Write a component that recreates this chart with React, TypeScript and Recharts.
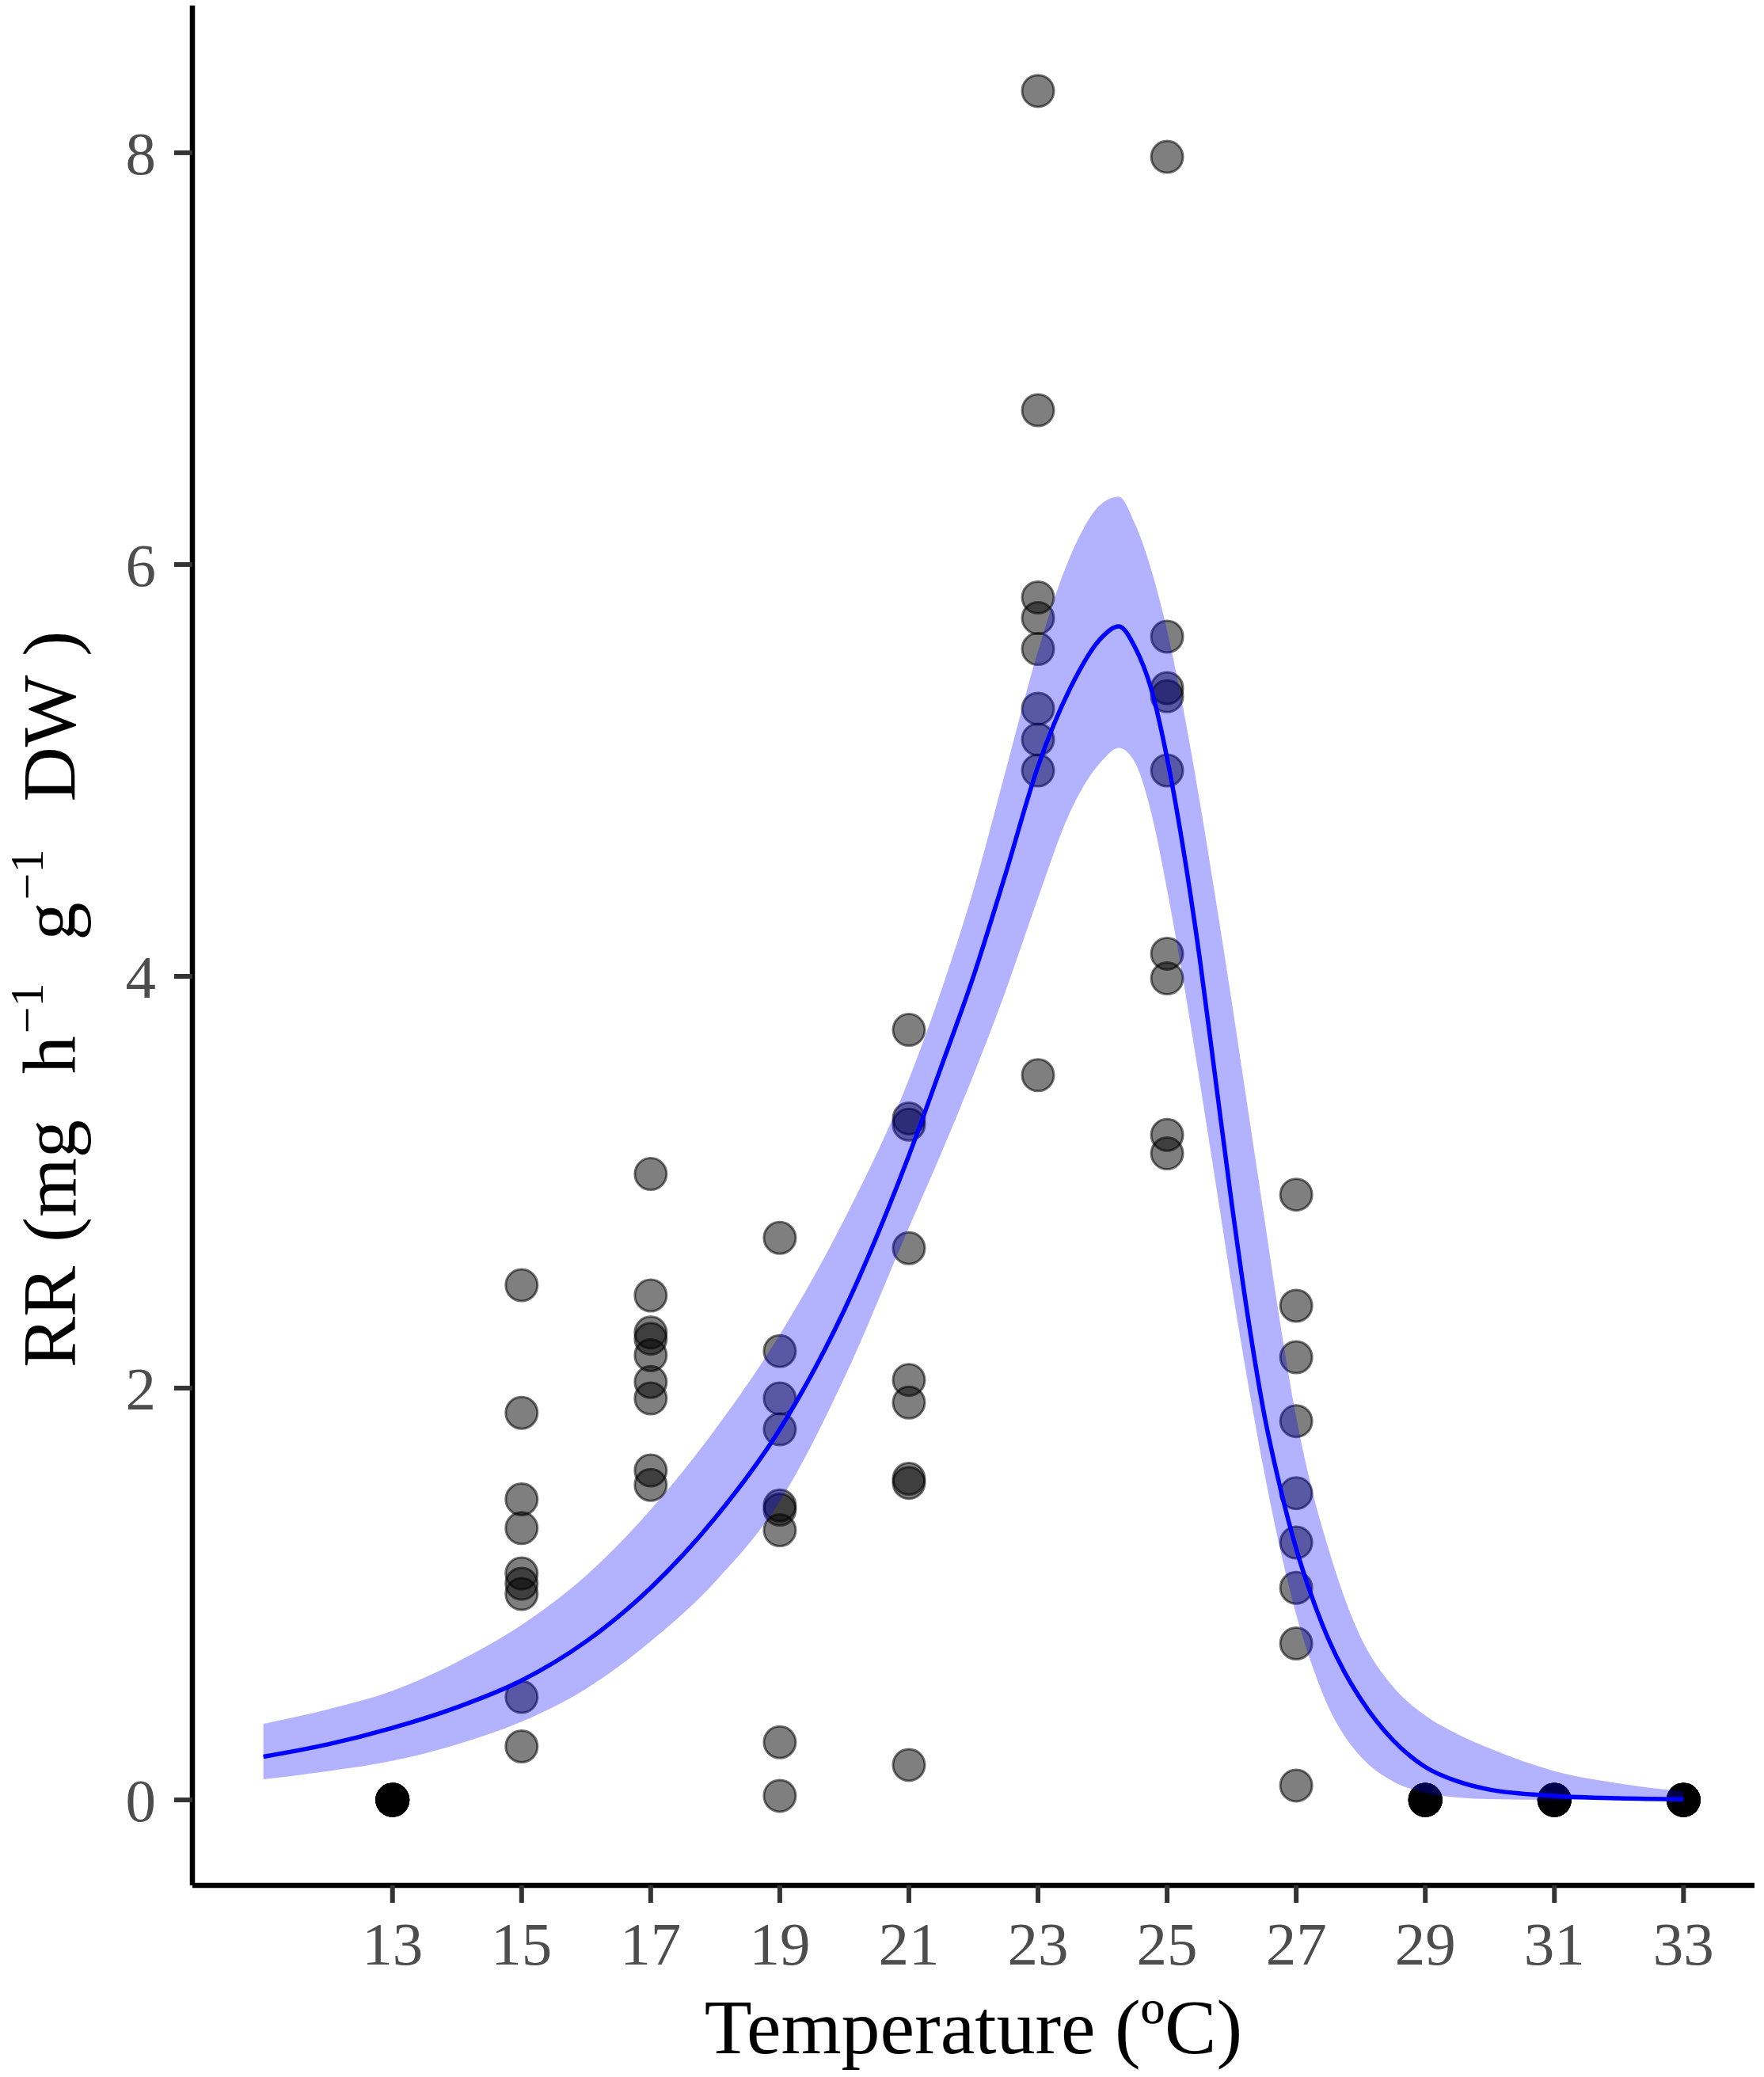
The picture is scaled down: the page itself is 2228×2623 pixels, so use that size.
import {
  ComposedChart,
  Area,
  Line,
  Scatter,
  XAxis,
  YAxis,
  Label } from
'recharts';

const SERIF = "'Liberation Serif', 'Times New Roman', serif";

// fitted thermal response curve with its confidence band
const FIT_T = [11, 12, 13, 14, 15, 16, 17, 18, 19, 20, 21, 21.5, 22, 22.5, 23, 23.5, 24, 24.25, 24.5, 24.75, 25, 25.25, 25.5, 25.75, 26, 26.25, 26.5, 26.75, 27, 27.25, 27.5, 27.75, 28, 28.5, 29, 29.5, 30, 31, 32, 33];
const FIT_RR = [0.21, 0.27, 0.35, 0.45, 0.58, 0.77, 1.03, 1.37, 1.8, 2.38, 3.13, 3.56, 4.0, 4.5, 5.02, 5.4, 5.65, 5.7, 5.6, 5.4, 5.06, 4.62, 4.1, 3.5, 2.9, 2.35, 1.88, 1.52, 1.22, 0.98, 0.78, 0.62, 0.49, 0.29, 0.16, 0.09, 0.05, 0.02, 0.008, 0.003];
const FIT_LO = [0.1, 0.14, 0.19, 0.27, 0.38, 0.54, 0.77, 1.06, 1.45, 2.05, 2.78, 3.14, 3.52, 3.93, 4.38, 4.8, 5.05, 5.11, 5.04, 4.8, 4.42, 3.98, 3.5, 3.0, 2.5, 2.03, 1.6, 1.22, 0.9, 0.65, 0.45, 0.31, 0.21, 0.09, 0.035, 0.012, 0.004, 0, 0, 0];
const FIT_HI = [0.37, 0.44, 0.53, 0.67, 0.85, 1.09, 1.41, 1.8, 2.26, 2.82, 3.5, 3.93, 4.42, 5.0, 5.58, 6.04, 6.3, 6.33, 6.2, 5.98, 5.68, 5.3, 4.86, 4.38, 3.88, 3.36, 2.84, 2.32, 1.86, 1.5, 1.22, 0.98, 0.79, 0.55, 0.41, 0.32, 0.25, 0.14, 0.08, 0.04];

// observed respiration rates, nine replicates per temperature
const OBS_TEMPS = [13, 15, 17, 19, 21, 23, 25, 27, 29, 31, 33];
const ZEROS = [0, 0, 0, 0, 0, 0, 0, 0, 0];
const OBS_VALUES = [
ZEROS,
[2.5, 1.88, 1.46, 1.32, 1.1, 1.05, 1.0, 0.5, 0.26],
[3.04, 2.45, 2.27, 2.24, 2.16, 2.03, 1.95, 1.6, 1.53],
[2.73, 2.18, 1.95, 1.8, 1.43, 1.41, 1.31, 0.28, 0.02],
[3.74, 3.31, 3.28, 2.68, 2.04, 1.93, 1.56, 1.54, 0.17],
[8.3, 6.75, 5.84, 5.74, 5.59, 5.3, 5.15, 5.0, 3.52],
[7.98, 5.65, 5.4, 5.36, 5.0, 4.11, 3.99, 3.23, 3.14],
[2.94, 2.4, 2.15, 1.84, 1.49, 1.25, 1.03, 0.76, 0.07],
ZEROS,
ZEROS,
ZEROS];


const X_TICKS = [13, 15, 17, 19, 21, 23, 25, 27, 29, 31, 33];
const Y_TICKS = [0, 2, 4, 6, 8];

const fitData = FIT_T.map((t, i) => ({
  t,
  fit: FIT_RR[i],
  band: [FIT_LO[i], FIT_HI[i]]
}));

const obsData = OBS_TEMPS.flatMap((t, i) => OBS_VALUES[i].map((rr) => ({ t, rr })));

function ObsDot(props: any) {
  return (
    <circle
      cx={props.cx}
      cy={props.cy}
      r={20}
      fill="#000"
      fillOpacity={0.5}
      stroke="#000"
      strokeOpacity={0.55}
      strokeWidth={3} />);


}

function XTitle({ viewBox }: any) {
  return (
    <text
      x={viewBox.x + viewBox.width / 2}
      y={viewBox.y + 212}
      textAnchor="middle"
      fontFamily={SERIF}
      fontSize={98}
      fill="#000">
      Temperature (ºC)
    </text>);

}

// RR (mg h^-1 g^-1 DW) with plotmath-like spacing and superscripts
function YTitle({ viewBox }: any) {
  const x = viewBox.x + 95;
  const y = viewBox.y + 1720;
  return (
    <text
      x={x}
      y={y}
      transform={`rotate(-90, ${x}, ${y})`}
      textAnchor="start"
      fontFamily={SERIF}
      fontSize={96}
      fill="#000">
      <tspan>RR</tspan>
      <tspan dx={30}>(</tspan>
      <tspan>mg</tspan>
      <tspan dx={58}>h</tspan>
      <tspan dx={3} dy={-41} fontSize={60}>−1</tspan>
      <tspan dx={54} dy={41}>g</tspan>
      <tspan dx={3} dy={-41} fontSize={60}>−1</tspan>
      <tspan dx={60} dy={41}>DW</tspan>
      <tspan dx={24}>)</tspan>
    </text>);

}

export default function App() {
  const tickStyle = { fontSize: 77, fill: '#4d4d4d', fontFamily: SERIF };
  return (
    <div style={{ position: 'absolute', left: 0, top: 0, background: '#fff' }}>
      <ComposedChart
        width={2228}
        height={2623}
        data={fitData}
        margin={{ top: 7, right: 12, bottom: 0, left: 0 }}>

        <XAxis
          dataKey="t"
          type="number"
          domain={[9.9, 34.1]}
          ticks={X_TICKS}
          interval={0}
          allowDataOverflow
          height={242}
          tick={tickStyle}
          tickSize={22}
          tickMargin={23}
          tickLine={{ stroke: '#333', strokeWidth: 6 }}
          axisLine={{ stroke: '#000', strokeWidth: 6.5 }}>

          <Label content={XTitle} />
        </XAxis>
        <YAxis
          type="number"
          domain={[-0.415, 8.715]}
          ticks={Y_TICKS}
          interval={0}
          allowDataOverflow
          width={243}
          tick={tickStyle}
          tickSize={23}
          tickMargin={23}
          tickLine={{ stroke: '#333', strokeWidth: 6 }}
          axisLine={{ stroke: '#000', strokeWidth: 6.5 }}>

          <Label content={YTitle} />
        </YAxis>

        <Scatter
          data={obsData}
          dataKey="rr"
          shape={ObsDot}
          zIndex={50}
          isAnimationActive={false} />

        <Area
          dataKey="band"
          type="monotone"
          stroke="none"
          fill="#0000ff"
          fillOpacity={0.3}
          dot={false}
          activeDot={false}
          isAnimationActive={false} />

        <Line
          dataKey="fit"
          type="monotone"
          stroke="#0000ff"
          strokeWidth={5.5}
          dot={false}
          activeDot={false}
          isAnimationActive={false} />

      </ComposedChart>
    </div>);

}
